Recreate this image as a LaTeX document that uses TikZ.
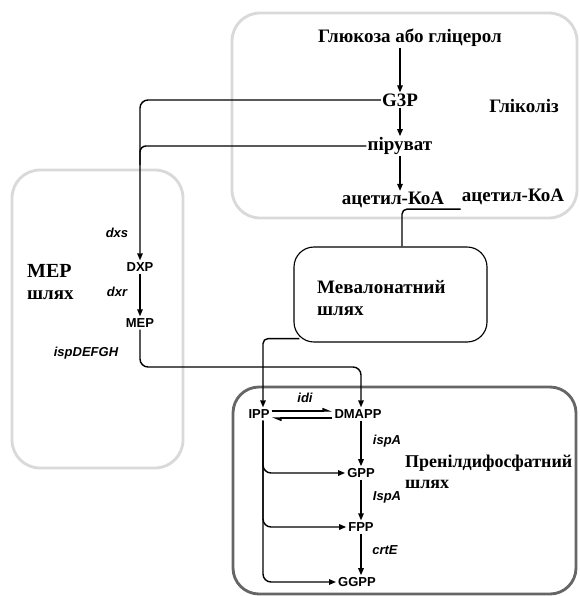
\documentclass[tikz,border=0pt]{standalone}
\usepackage{fontspec}
\setmainfont{Liberation Serif}
\setsansfont{Liberation Sans}
\usetikzlibrary{arrows.meta}

\begin{document}
\begin{tikzpicture}[x=1pt, y=-1pt,
		title/.style={font=\bfseries\fontsize{19}{22}\selectfont, inner sep=1pt},
		mol/.style={font=\sffamily\bfseries\fontsize{13}{15}\selectfont, inner sep=2pt},
		enz/.style={font=\sffamily\bfseries\itshape\fontsize{13}{15}\selectfont, inner sep=1pt},
		conn/.style={line width=0.5mm},
		arr/.style={conn, -{Triangle[length=7pt, width=5.5pt]}},
		harp/.style={conn, -{Triangle[left, length=8pt, width=6pt]}},
		pale/.style={line width=1mm, color=black!15, rounded corners=28pt},
	]
		%%%%% START %%%%%
		\useasboundingbox (0, 0) rectangle (579, 596);
		
		% boxes
		\draw[pale] (232, 13) rectangle (577, 218);
		\draw[pale] (12, 170) rectangle (183, 468);
		\draw[line width=1mm, color=black!60, rounded corners=26pt] (233, 387) rectangle (576, 594);
		\node[draw, line width=0.4mm, rounded corners=20pt, minimum width=193pt, minimum height=95pt] (mvabox) at (390.5, 294.5) {};
		
		% glycolysis
		\node[title] (glu) at (410, 38) {Глюкоза або гліцерол};
		\node[title] (g3p) at (400, 100) {G3P};
		\node[title] (pyr) at (400, 146) {піруват};
		\node[title] (acoa) at (393, 200) {ацетил-КоА};
		\node[title] (acoamva) at (513, 197) {ацетил-КоА};
		\node[title] (glyc) at (524, 106) {Гліколіз};
		
		\draw[arr] (glu.south -| g3p) -- (g3p);
		\draw[arr] (g3p) -- (pyr);
		\draw[arr] (pyr) -- (acoa.north -| pyr);
		
		% mevalonate
		\node[title, align=left, anchor=west] (mvatext) at (316, 298) {Мевалонатний\\шлях};
		\draw[conn, rounded corners=5pt] ([yshift=-3pt]acoamva.south west) -| ([xshift=11.5pt]mvabox.north);
		
		% MEP pathway
		\node[title, align=left, anchor=west] (meppath) at (26, 282) {\fontsize{20}{23}\selectfont MEP\\шлях};
		\node[mol] (dxp) at (140, 267) {DXP};
		\node[mol] (mep) at (140, 323) {MEP};
		\node[enz] (dxs) at (117, 233) {dxs};
		\node[enz] (dxr) at (117, 292) {dxr};
		\node[enz] (isp) at (86, 353) {ispDEFGH};
		\coordinate (mepjoin) at (140, 165);
		\coordinate (mepturn) at (0, 367);
		
		\draw[arr, rounded corners=8pt] (g3p.west) -| (dxp.north);
		\draw[conn, rounded corners=6pt] (pyr.west) -| (mepjoin);
		\draw[arr] (dxp) -- (mep);
		
		% prenyl diphosphate
		\node[mol] (ipp) at (259, 414) {IPP};
		\node[mol] (dmapp) at (358, 414) {DMAPP};
		\node[mol] (gpp) at (361, 473) {GPP};
		\node[mol] (fpp) at (361, 527) {FPP};
		\node[mol] (ggpp) at (357, 582) {GGPP};
		\node[enz] (idi) at (305, 398) {idi};
		\node[enz] (ispa) at (387, 441) {ispA};
		\node[enz] (ispb) at (387, 497) {IspA};
		\node[enz] (crte) at (385, 550) {crtE};
		\node[title, font=\bfseries\fontsize{18}{21}\selectfont, align=left, anchor=west] (prenyl) at (404, 472) {Пренілдифосфатний\\шлях};
		
		\draw[arr, rounded corners=8pt] (mep.south) |- (mepturn -| gpp) -- (dmapp.north -| gpp);
		\draw[arr, rounded corners=5pt] ([xshift=6pt, yshift=4pt]mvabox.south west) -| (ipp.north -| 263, 0);
		
		\draw[harp] ([yshift=3pt]ipp.east) -- ([yshift=3pt]dmapp.west);
		\draw[harp] ([yshift=-4pt]dmapp.west) -- ([yshift=-4pt]ipp.east);
		
		\draw[arr] (dmapp.south -| gpp) -- (gpp);
		\draw[arr] (gpp) -- (fpp);
		\draw[arr] (fpp) -- (ggpp.north -| fpp);
		
		\draw[arr, rounded corners=8pt] (ipp.south -| 263, 0) |- (gpp.west);
		\draw[arr, rounded corners=8pt] (ipp.south -| 263, 0) |- (fpp.west);
		\draw[arr, rounded corners=8pt] (ipp.south -| 263, 0) |- (ggpp.west);
		
		%%%%% END %%%%%
\end{tikzpicture}
\end{document}
